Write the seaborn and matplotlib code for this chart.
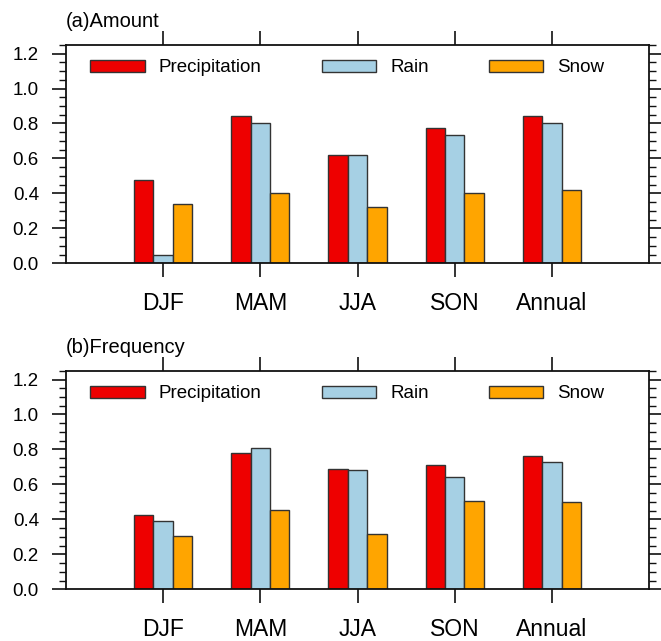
import matplotlib
matplotlib.use("Agg")
import matplotlib.pyplot as plt
from matplotlib.ticker import MultipleLocator
import seaborn as sns
import pandas as pd

seasons = ["DJF", "MAM", "JJA", "SON", "Annual"]
series = ["Precipitation", "Rain", "Snow"]
amount_precip = [0.474, 0.841, 0.619, 0.776, 0.841]
amount_rain = [0.046, 0.805, 0.619, 0.732, 0.805]
amount_snow = [0.340, 0.403, 0.321, 0.403, 0.420]
freq_precip = [0.424, 0.777, 0.689, 0.712, 0.762]
freq_rain = [0.389, 0.811, 0.680, 0.642, 0.731]
freq_snow = [0.306, 0.452, 0.317, 0.505, 0.500]
panel_titles = ["(a)Amount", "(b)Frequency"]
yticks = [0.0, 0.2, 0.4, 0.6, 0.8, 1.0, 1.2]

colors = {"Precipitation": "#EE0000", "Rain": "#A6D0E4", "Snow": "#FFA500"}

sns.set_style("white")
plt.rcParams["font.family"] = ["Liberation Sans", "DejaVu Sans"]
plt.rcParams["text.color"] = "black"
plt.rcParams["xtick.color"] = "black"
plt.rcParams["ytick.color"] = "black"
plt.rcParams["axes.labelcolor"] = "black"

def long_df(p, r, s):
    rows = []
    for name, vals in zip(series, [p, r, s]):
        for season, v in zip(seasons, vals):
            rows.append({"season": season, "series": name, "value": v})
    return pd.DataFrame(rows)

data = [long_df(amount_precip, amount_rain, amount_snow),
        long_df(freq_precip, freq_rain, freq_snow)]

W, H = 661, 641
fig = plt.figure(figsize=(W / 100, H / 100), dpi=100)
rects = [
    (66 / W, 1 - 263.3 / H, 583 / W, 218.5 / H),
    (66 / W, 1 - 589.3 / H, 583 / W, 218.5 / H),
]

for i, (df, title, rect) in enumerate(zip(data, panel_titles, rects)):
    ax = fig.add_axes(rect)
    sns.barplot(data=df, x="season", y="value", hue="series", order=seasons,
                hue_order=series, palette=colors, width=0.6, saturation=1,
                edgecolor="#333333", linewidth=1.0, gap=0, ax=ax, errorbar=None)
    ax.set_xlim(-1, 5)
    ax.set_ylim(0, 1.25)
    ax.set_xlabel("")
    ax.set_ylabel("")
    ax.set_yticks(yticks)
    ax.set_yticklabels([f"{t:.1f}" for t in yticks])
    ax.yaxis.set_minor_locator(MultipleLocator(0.05))
    for sp in ax.spines.values():
        sp.set_visible(True)
        sp.set_color("#111111")
        sp.set_linewidth(1.3)
    ax.tick_params(axis="y", which="major", direction="out", length=10, width=1.2,
                   left=True, right=True, labelsize=13.5, pad=9.5, color="#111111",
                   labelcolor="black")
    ax.tick_params(axis="y", which="minor", direction="out", length=5, width=1.0,
                   left=True, right=True, color="#111111")
    ax.tick_params(axis="x", which="major", direction="out", length=10, width=1.2,
                   bottom=True, top=True, labeltop=False, labelsize=16.5, pad=10.5,
                   color="#111111", labelcolor="black")
    ax.tick_params(axis="x", which="minor", bottom=False, top=False)
    ax.grid(False)
    ax.text(0, 1 + 17.5 / 218.5, title, transform=ax.transAxes, ha="left",
            va="baseline", fontsize=14.5, color="black")
    handles, labels = ax.get_legend_handles_labels()
    leg = ax.legend(handles, labels, loc="center left",
                    bbox_to_anchor=(0.042, 1 - 23 / 218.5),
                    ncol=3, frameon=False, fontsize=13.5, handlelength=2.9,
                    handleheight=0.62, handletextpad=0.75, columnspacing=3.2,
                    borderpad=0, borderaxespad=0)
    for t in leg.get_texts():
        t.set_color("black")

fig.savefig("out.png", dpi=100)
